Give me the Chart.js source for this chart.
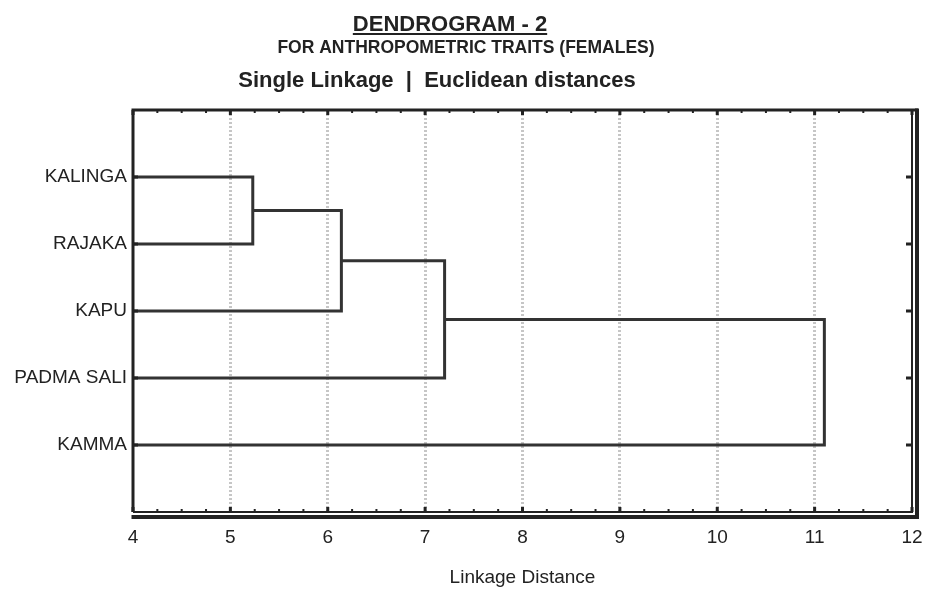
<!DOCTYPE html>
<html>
<head>
<meta charset="utf-8">
<script src="https://cdn.jsdelivr.net/npm/chart.js@4.4.0/dist/chart.umd.min.js"></script>
<style>
html, body { margin: 0; padding: 0; background: #fff; }
#wrap { width: 925px; height: 589px; }
</style>
</head>
<body>
<div id="wrap"><canvas id="dendro"></canvas></div>
<script>
const leafNames = ["KALINGA", "RAJAKA", "KAPU", "PADMA SALI", "KAMMA"];
// node ids 0-4 are the leaves, every merge adds a new node (5, 6, ...)
const mergeLeft = [0, 5, 6, 7];
const mergeRight = [1, 2, 3, 4];
const mergeDistance = [5.23, 6.14, 7.2, 11.1];
const distanceTicks = [4, 5, 6, 7, 8, 9, 10, 11, 12];

const titleText = "DENDROGRAM - 2";
const subtitleText = "FOR ANTHROPOMETRIC TRAITS (FEMALES)";
const methodText = "Single Linkage  |  Euclidean distances";
const axisTitle = "Linkage Distance";

const FONT = '"Liberation Sans", Arial, sans-serif';
const INK = "#333333";

let nodeX = leafNames.map(() => distanceTicks[0]);
let nodeY = leafNames.map((n, i) => i + 1);
let datasets = [];
mergeDistance.forEach((d, i) => {
  const a = mergeLeft[i];
  const b = mergeRight[i];
  datasets.push({
    data: [
      { x: nodeX[a], y: nodeY[a] },
      { x: d, y: nodeY[a] },
      { x: d, y: nodeY[b] },
      { x: nodeX[b], y: nodeY[b] },
    ],
    showLine: true,
    borderColor: INK,
    borderWidth: 3,
    pointRadius: 0,
    borderJoinStyle: "miter",
  });
  nodeX.push(d);
  nodeY.push((nodeY[a] + nodeY[b]) / 2);
});

function centered(ctx, text, font, cx, y, underline) {
  ctx.font = font;
  const w = ctx.measureText(text).width;
  ctx.fillText(text, cx - w / 2, y);
  if (underline) {
    ctx.fillRect(cx - w / 2, y + 2, w, 2);
  }
}

const framePlugin = {
  id: "frame",
  beforeDraw(chart) {
    const ctx = chart.ctx;
    ctx.save();
    ctx.fillStyle = "#222";
    ctx.textBaseline = "alphabetic";
    centered(ctx, titleText, "bold 22px " + FONT, 450, 31, true);
    centered(ctx, subtitleText, "bold 17.5px " + FONT, 466, 53, false);
    centered(ctx, methodText, "bold 22px " + FONT, 437, 87, false);
    ctx.restore();
  },
  afterDatasetsDraw(chart) {
    const { ctx, chartArea: a, scales } = chart;
    const x = scales.x;
    const y = scales.y;
    ctx.save();
    ctx.strokeStyle = "#222";
    // small tick marks on the inside of the frame
    for (let v = distanceTicks[0]; v <= distanceTicks[distanceTicks.length - 1]; v += 0.25) {
      const px = x.getPixelForValue(v);
      const major = Number.isInteger(v);
      ctx.lineWidth = major ? 3 : 2;
      const len = major ? 5 : 3;
      ctx.beginPath();
      ctx.moveTo(px, a.top);
      ctx.lineTo(px, a.top + len);
      ctx.moveTo(px, a.bottom);
      ctx.lineTo(px, a.bottom - len);
      ctx.stroke();
    }
    ctx.lineWidth = 3;
    leafNames.forEach((n, i) => {
      const py = y.getPixelForValue(i + 1);
      ctx.beginPath();
      ctx.moveTo(a.left, py);
      ctx.lineTo(a.left + 5, py);
      ctx.moveTo(a.right, py);
      ctx.lineTo(a.right - 6, py);
      ctx.stroke();
    });
    // frame: single on top/left, double on bottom/right
    ctx.lineWidth = 3;
    ctx.beginPath();
    ctx.moveTo(a.left, a.bottom);
    ctx.lineTo(a.left, a.top);
    ctx.lineTo(a.right + 6, a.top);
    ctx.stroke();
    ctx.lineWidth = 2;
    ctx.beginPath();
    ctx.moveTo(a.left, a.bottom);
    ctx.lineTo(a.right, a.bottom);
    ctx.lineTo(a.right, a.top);
    ctx.stroke();
    ctx.lineWidth = 4;
    ctx.beginPath();
    ctx.moveTo(a.left - 1.5, a.bottom + 5);
    ctx.lineTo(a.right + 5, a.bottom + 5);
    ctx.lineTo(a.right + 5, a.top - 1.5);
    ctx.stroke();
    ctx.restore();
  },
};

new Chart(document.getElementById("dendro"), {
  type: "scatter",
  data: { datasets: datasets },
  plugins: [framePlugin],
  options: {
    responsive: true,
    maintainAspectRatio: false,
    animation: false,
    layout: { padding: { top: 110, right: 13, left: 0, bottom: 0 } },
    plugins: {
      legend: { display: false },
      tooltip: { enabled: false },
    },
    scales: {
      x: {
        type: "linear",
        min: distanceTicks[0],
        max: distanceTicks[distanceTicks.length - 1],
        afterFit(scale) {
          scale.height = 77;
          scale.paddingLeft = 0;
          scale.paddingRight = 0;
        },
        afterBuildTicks(scale) { scale.ticks = distanceTicks.map((v) => ({ value: v })); },
        border: { display: false, dash: [2, 2] },
        grid: {
          drawTicks: false,
          lineWidth: 3,
          color: (c) => (c.tick && (c.tick.value === distanceTicks[0] || c.tick.value === distanceTicks[distanceTicks.length - 1]) ? "rgba(0,0,0,0)" : "#c6c6c6"),
        },
        ticks: {
          color: "#222",
          padding: 14,
          font: { family: FONT, size: 19 },
        },
        title: {
          display: true,
          text: axisTitle,
          color: "#222",
          font: { family: FONT, size: 19 },
          padding: { top: 0, bottom: 0 },
        },
      },
      y: {
        type: "linear",
        reverse: true,
        min: 0,
        max: leafNames.length + 1,
        afterFit(scale) { scale.width = 133; },
        border: { display: false },
        grid: { display: false, drawTicks: false },
        ticks: {
          stepSize: 1,
          color: "#222",
          padding: 6,
          font: { family: FONT, size: 19 },
          callback: (v) => leafNames[v - 1] || "",
        },
      },
    },
  },
});
</script>
</body>
</html>
